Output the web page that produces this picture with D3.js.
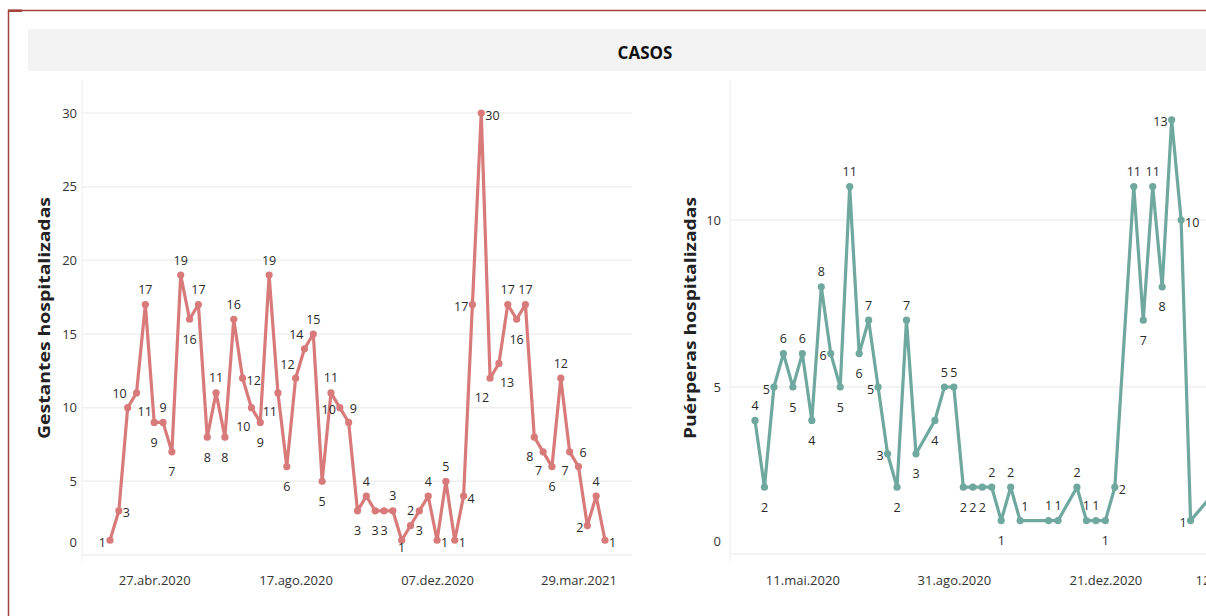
<!DOCTYPE html>
<html>
<head>
<meta charset="utf-8">
<script src="https://cdn.jsdelivr.net/npm/d3@7"></script>
<style>
  html, body { margin: 0; padding: 0; background: #fff; }
  svg { display: block; }
  text { font-family: "Open Sans", "Noto Sans", sans-serif; }
</style>
</head>
<body>
<svg id="chart" width="1206" height="616"></svg>
<script>
// ---------- DATA ----------
const title = "CASOS";

const gestDates = [
  "2020-03-23","2020-03-30","2020-04-06","2020-04-13","2020-04-20","2020-04-27",
  "2020-05-04","2020-05-11","2020-05-18","2020-05-25","2020-06-01","2020-06-08",
  "2020-06-15","2020-06-22","2020-06-29","2020-07-06","2020-07-13","2020-07-20",
  "2020-07-27","2020-08-03","2020-08-10","2020-08-17","2020-08-24","2020-08-31",
  "2020-09-07","2020-09-14","2020-09-21","2020-09-28","2020-10-05","2020-10-12",
  "2020-10-19","2020-10-26","2020-11-02","2020-11-09","2020-11-16","2020-11-23",
  "2020-11-30","2020-12-07","2020-12-14","2020-12-21","2020-12-28","2021-01-04",
  "2021-01-11","2021-01-18","2021-01-25","2021-02-01","2021-02-08","2021-02-15",
  "2021-02-22","2021-03-01","2021-03-08","2021-03-15","2021-03-22","2021-03-29",
  "2021-04-05","2021-04-12","2021-04-19"
];
const gestValues = [
  1, 3, 10, 11, 17, 9, 9, 7, 19, 16,
  17, 8, 11, 8, 16, 12, 10, 9, 19, 11,
  6, 12, 14, 15, 5, 11, 10, 9, 3, 4,
  3, 3, 3, 1, 2, 3, 4, 1, 5, 1,
  4, 17, 30, 12, 13, 17, 16, 17, 8, 7,
  6, 12, 7, 6, 2, 4, 1
];
const gestYTicks = [0, 5, 10, 15, 20, 25, 30];
const gestXTicks = ["2020-04-27", "2020-08-17", "2020-12-07", "2021-03-29"];
const gestXTickLabels = ["27.abr.2020", "17.ago.2020", "07.dez.2020", "29.mar.2021"];
const gestTitle = "Gestantes hospitalizadas";

const puerDates = [
  "2020-04-06","2020-04-13","2020-04-20","2020-04-27","2020-05-04","2020-05-11",
  "2020-05-18","2020-05-25","2020-06-01","2020-06-08","2020-06-15","2020-06-22",
  "2020-06-29","2020-07-06","2020-07-13","2020-07-20","2020-07-27","2020-08-03",
  "2020-08-17","2020-08-24","2020-08-31","2020-09-07","2020-09-14","2020-09-21",
  "2020-09-28","2020-10-05","2020-10-12","2020-10-19","2020-11-09","2020-11-16",
  "2020-11-30","2020-12-07","2020-12-14","2020-12-21","2020-12-28","2021-01-11",
  "2021-01-18","2021-01-25","2021-02-01","2021-02-08","2021-02-15","2021-02-22",
  "2021-03-15"
];
const puerValues = [
  4, 2, 5, 6, 5, 6, 4, 8, 6, 5,
  11, 6, 7, 5, 3, 2, 7, 3, 4, 5,
  5, 2, 2, 2, 2, 1, 2, 1, 1, 1,
  2, 1, 1, 1, 2, 11, 7, 11, 8, 13,
  10, 1, 2
];
const puerYTicks = [0, 5, 10];
const puerXTicks = ["2020-05-11", "2020-08-31", "2020-12-21", "2021-04-12"];
const puerXTickLabels = ["11.mai.2020", "31.ago.2020", "21.dez.2020", "12.abr.2021"];
const puerTitle = "Puérperas hospitalizadas";

// label placement (style, not data)
const gestLabelPos = ["l","r","tl","br","t","b","t","b","t","b",
  "t","b","t","b","t","r","bl","b","t","bl",
  "b","tl","tl","t","b","t","l","tr","b","t",
  "b","b","t","bt","t","b","t","r","t","r",
  "r","l","r","bl","br","t","b","t","bl","bl",
  "b","t","bl","tr","l","t","r"];
const puerLabelPos = ["t","b","l","t","b","t","b","t","l","b",
  "t","b","t","l","l","b","t","b","b","t",
  "t","b","b","b","t","b","t","tr","t","t",
  "t","t","t","b","r","t","b","t","b","l",
  "r","l","r"];

// ---------- DRAW ----------
const W = 1206;
const parse = d3.timeParse("%Y-%m-%d");
const svg = d3.select("#chart");

// frame
svg.append("line").attr("x1", 8).attr("x2", 1206).attr("y1", 10.5).attr("y2", 10.5)
  .attr("stroke", "#a2433c").attr("stroke-width", 1.5);
svg.append("line").attr("x1", 8.5).attr("x2", 8.5).attr("y1", 10).attr("y2", 616)
  .attr("stroke", "#a2433c").attr("stroke-width", 1.5);
svg.append("rect").attr("x", 8).attr("y", 9.5).attr("width", 14).attr("height", 2.5).attr("fill", "#a2433c");

// title band
svg.append("rect").attr("x", 28).attr("y", 29).attr("width", 1200).attr("height", 42).attr("fill", "#f3f3f3");
svg.append("text").attr("x", 645).attr("y", 52).attr("text-anchor", "middle")
  .attr("dominant-baseline", "central")
  .attr("font-size", 17).attr("font-weight", 700).attr("fill", "#111").text(title);

const offsets = {
  t:  {dx: 0,  dy: -15, a: "middle"},
  b:  {dx: 0,  dy: 20,  a: "middle"},
  bt: {dx: 0,  dy: 7,   a: "middle"},
  l:  {dx: -4, dy: 2,   a: "end"},
  r:  {dx: 4,  dy: 2,   a: "start"},
  tl: {dx: -1, dy: -14, a: "end"},
  tr: {dx: 1,  dy: -14, a: "start"},
  bl: {dx: -1, dy: 19,  a: "end"},
  br: {dx: 1,  dy: 19,  a: "start"}
};

function panel(cfg) {
  const g = svg.append("g");
  const dates = cfg.dates.map(parse);
  const x = d3.scaleTime().domain(cfg.xDomain.map(parse)).range(cfg.xRange);
  const y = d3.scaleLinear().domain(cfg.yDomain).range(cfg.yRange);

  // faint pane axis line
  g.append("line").attr("x1", cfg.paneLeft).attr("x2", cfg.paneLeft)
    .attr("y1", 80).attr("y2", 562).attr("stroke", "#f3f3f3").attr("stroke-width", 1.5);

  // gridlines
  g.selectAll(".grid").data(cfg.yTicks).join("line")
    .attr("x1", cfg.paneLeft).attr("x2", cfg.paneRight)
    .attr("y1", d => y(d)).attr("y2", d => y(d))
    .attr("stroke", "#efefef").attr("stroke-width", 1.5);

  // y axis
  const ya = g.append("g").attr("transform", `translate(${cfg.yLabelX},0)`)
    .call(d3.axisLeft(y).tickValues(cfg.yTicks).tickSize(0).tickPadding(0).tickFormat(d3.format("d")));
  ya.select(".domain").remove();
  ya.selectAll("text").attr("font-size", 13).attr("fill", "#333")
    .attr("font-family", "'Open Sans', sans-serif")
    .attr("dy", d => d === 0 ? "-0.68em" : "0.32em");

  // y title
  g.append("text")
    .attr("transform", `translate(${cfg.titleX},${cfg.titleY}) rotate(-90)`)
    .attr("text-anchor", "middle").attr("dominant-baseline", "central")
    .attr("font-size", 16).attr("font-weight", 700).attr("fill", "#222")
    .attr("textLength", 242).attr("lengthAdjust", "spacingAndGlyphs")
    .text(cfg.title);

  // x axis
  const xa = g.append("g").attr("transform", `translate(0,${cfg.xAxisY})`)
    .call(d3.axisBottom(x).tickValues(cfg.xTicks.map(parse)).tickSize(0).tickPadding(0)
      .tickFormat((d, i) => cfg.xTickLabels[i]));
  xa.select(".domain").remove();
  xa.selectAll("text").attr("font-size", 13).attr("fill", "#333")
    .attr("font-family", "'Open Sans', sans-serif");
  if (cfg.lastTickEnd) {
    xa.selectAll(".tick").filter((d, i) => i === cfg.xTicks.length - 1)
      .select("text").attr("text-anchor", "end")
      .attr("x", cfg.lastTickEnd - x(parse(cfg.xTicks[cfg.xTicks.length - 1])));
  }

  const pts = dates.map((d, i) => ({d, v: cfg.values[i], p: cfg.pos[i]}));

  g.append("path").datum(pts)
    .attr("fill", "none").attr("stroke", cfg.color).attr("stroke-width", 3.2)
    .attr("stroke-linejoin", "round")
    .attr("d", d3.line().x(p => x(p.d)).y(p => y(p.v)));

  g.selectAll(".pt").data(pts).join("circle")
    .attr("cx", p => x(p.d)).attr("cy", p => y(p.v)).attr("r", 3.6)
    .attr("fill", cfg.color);

  // labels only for marks inside the visible picture
  g.selectAll(".lbl").data(pts.filter(p => x(p.d) < W)).join("text")
    .attr("x", p => x(p.d) + offsets[p.p].dx)
    .attr("y", p => y(p.v) + offsets[p.p].dy)
    .attr("text-anchor", p => offsets[p.p].a)
    .attr("dominant-baseline", "central")
    .attr("font-size", 12.5).attr("fill", "#2a2a2a")
    .text(p => p.v);
}

panel({
  dates: gestDates, values: gestValues, pos: gestLabelPos,
  xDomain: ["2020-03-23", "2021-04-19"], xRange: [110, 605],
  yDomain: [0, 30], yRange: [555, 113],
  yTicks: gestYTicks, xTicks: gestXTicks, xTickLabels: gestXTickLabels,
  paneLeft: 82, paneRight: 632, yLabelX: 77,
  titleX: 44, titleY: 318, title: gestTitle,
  xAxisY: 576, color: "#d87a7a"
});

panel({
  dates: puerDates, values: puerValues, pos: puerLabelPos,
  xDomain: ["2020-04-06", "2021-03-15"], xRange: [755, 1219],
  yDomain: [0, 10], yRange: [554, 220],
  yTicks: puerYTicks, xTicks: puerXTicks, xTickLabels: puerXTickLabels,
  paneLeft: 730, paneRight: 1290, yLabelX: 721,
  titleX: 690, titleY: 318, title: puerTitle,
  xAxisY: 576, color: "#6ea89e", lastTickEnd: 1267
});
</script>
</body>
</html>
